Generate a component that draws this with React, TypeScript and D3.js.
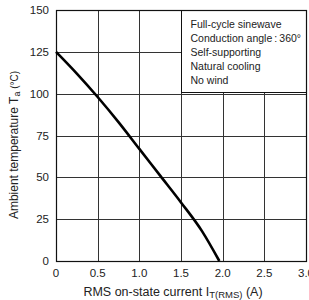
import { useEffect, useRef } from "react";
import * as d3 from "d3";

// derating curve
const currentA = [0, 0.25, 0.5, 0.75, 1.0, 1.25, 1.5, 1.75, 1.96];
const ambientC = [125, 112, 98, 83, 67, 51, 35, 18, 0];

const xTicks = [0, 0.5, 1.0, 1.5, 2.0, 2.5, 3.0];
const yTicks = [0, 25, 50, 75, 100, 125, 150];

const conditions = [
  "Full-cycle sinewave",
  "Conduction angle\u2009:\u2009360°",
  "Self-supporting",
  "Natural cooling",
  "No wind",
];

export default function App() {
  const width = 309;
  const height = 300;
  const svgRef = useRef<SVGSVGElement>(null);

  useEffect(() => {
    const margin = { top: 10, right: 3, bottom: 39, left: 56 };
    const font = "Liberation Sans, Arial, sans-serif";

    const x = d3.scaleLinear().domain([0, 3]).range([margin.left, width - margin.right]);
    const y = d3.scaleLinear().domain([0, 150]).range([height - margin.bottom, margin.top]);

    const svg = d3.select(svgRef.current);
    svg.selectAll("*").remove();

    // grid
    const grid = svg.append("g").attr("stroke", "#333").attr("stroke-width", 1);
    grid
      .selectAll("line.v")
      .data(xTicks.slice(1, -1))
      .join("line")
      .attr("x1", (d) => Math.round(x(d)) + 0.5)
      .attr("x2", (d) => Math.round(x(d)) + 0.5)
      .attr("y1", y(0))
      .attr("y2", y(150));
    grid
      .selectAll("line.h")
      .data(yTicks.slice(1, -1))
      .join("line")
      .attr("y1", (d) => Math.round(y(d)) + 0.5)
      .attr("y2", (d) => Math.round(y(d)) + 0.5)
      .attr("x1", x(0))
      .attr("x2", x(3));

    // conditions box
    const bx = Math.round(x(1.5)) + 0.5;
    const by = Math.round(y(150)) + 0.5;
    const bh = Math.round(y(100)) - 1.5 - by;
    svg
      .append("rect")
      .attr("x", bx)
      .attr("y", by)
      .attr("width", Math.round(x(3)) + 0.5 - bx)
      .attr("height", bh)
      .attr("fill", "#fff")
      .attr("stroke", "#111")
      .attr("stroke-width", 1);
    svg
      .append("g")
      .selectAll("text")
      .data(conditions)
      .join("text")
      .attr("x", bx + 9)
      .attr("y", (d, i) => by + 17 + i * 14)
      .attr("font-family", font)
      .attr("font-size", 10.5)
      .attr("fill", "#222")
      .text((d) => d);

    // frame
    svg
      .append("rect")
      .attr("x", Math.round(x(0)) + 0.5)
      .attr("y", Math.round(y(150)) + 0.5)
      .attr("width", Math.round(x(3)) - Math.round(x(0)))
      .attr("height", Math.round(y(0)) - Math.round(y(150)))
      .attr("fill", "none")
      .attr("stroke", "#111")
      .attr("stroke-width", 1.2);

    // curve
    const line = d3
      .line<number>()
      .x((d) => x(d))
      .y((d, i) => y(ambientC[i]))
      .curve(d3.curveMonotoneX);
    svg
      .append("path")
      .datum(currentA)
      .attr("d", line)
      .attr("fill", "none")
      .attr("stroke", "#000")
      .attr("stroke-width", 2.6);

    // tick labels
    svg
      .append("g")
      .selectAll("text")
      .data(xTicks)
      .join("text")
      .attr("x", (d) => x(d))
      .attr("y", y(0) + 16)
      .attr("text-anchor", "middle")
      .attr("font-family", font)
      .attr("font-size", 11.5)
      .attr("fill", "#222")
      .text((d) => (d === 0 ? "0" : d.toFixed(1)));
    svg
      .append("g")
      .selectAll("text")
      .data(yTicks)
      .join("text")
      .attr("x", x(0) - 7)
      .attr("y", (d) => y(d) + 4)
      .attr("text-anchor", "end")
      .attr("font-family", font)
      .attr("font-size", 11.5)
      .attr("fill", "#222")
      .text((d) => d);

    // axis titles
    const xt = svg
      .append("text")
      .attr("x", 173)
      .attr("y", 296)
      .attr("text-anchor", "middle")
      .attr("font-family", font)
      .attr("font-size", 12.5)
      .attr("fill", "#222");
    xt.append("tspan").text("RMS on-state current  I");
    xt.append("tspan").attr("font-size", 9.5).attr("dy", 2).text("T(RMS)");
    xt.append("tspan").attr("dy", -2).text(" (A)");

    const yt = svg
      .append("text")
      .attr("transform", `translate(18,${145}) rotate(-90)`)
      .attr("text-anchor", "middle")
      .attr("font-family", font)
      .attr("font-size", 12)
      .attr("fill", "#222");
    yt.append("tspan").text("Ambient temperature  T");
    yt.append("tspan").attr("font-size", 9).attr("dy", 2).text("a");
    yt.append("tspan").attr("dy", -2).attr("font-size", 10).text(" (°C)");
  }, []);

  return (
    <svg
      ref={svgRef}
      width={width}
      height={height}
      style={{ position: "absolute", left: 0, top: 0, background: "#fff" }}
    ></svg>
  );
}
